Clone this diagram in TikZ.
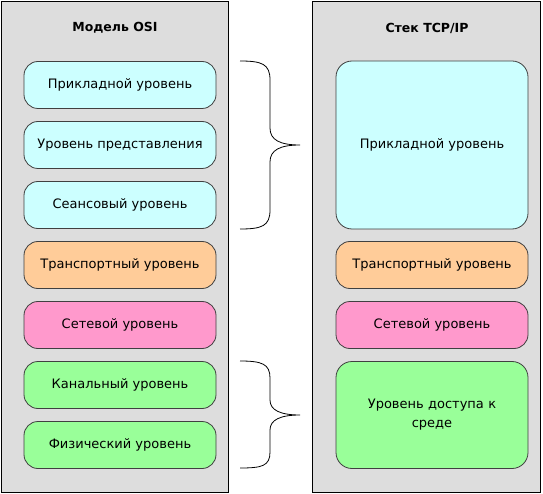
\documentclass[tikz,border=0pt]{standalone}
\usepackage{fontspec}
\setmainfont{DejaVu Sans}

\definecolor{panelgray}{HTML}{DDDDDD}
\definecolor{appcyan}{HTML}{CCFFFF}
\definecolor{transorange}{HTML}{FFCC99}
\definecolor{netpink}{HTML}{FF99CC}
\definecolor{linkgreen}{HTML}{99FF99}

\tikzset{
  panel/.style={draw=black, fill=panelgray},
  layer/.style={draw=black!75, thick, rounded corners=14pt, minimum width=192pt,
    minimum height=47pt, align=center, inner sep=0pt, font=\fontsize{13}{19}\selectfont},
  title/.style={font=\bfseries\fontsize{12.5}{15}\selectfont},
  brace/.style={draw=black, line width=0.8pt},
}

\begin{document}
\begin{tikzpicture}[x=1pt, y=-1pt]

\useasboundingbox (0,0) rectangle (543,494);
%\draw[very thin,color=gray] (0,0) grid[step=20] (543,494);

\draw[panel] (1,1) rectangle (228,492);
\draw[panel] (312,1) rectangle (540,492);

\node(osi) at (115,28) [title] {Модель OSI};
\node(tcp) at (427,28) [title] {Стек TCP/IP};

% OSI
\node(app)   at (120,85)  [layer, fill=appcyan] {Прикладной уровень};
\node(pres)  at (120,145) [layer, fill=appcyan] {Уровень представления};
\node(sess)  at (120,205) [layer, fill=appcyan] {Сеансовый уровень};
\node(trans) at (120,265) [layer, fill=transorange] {Транспортный уровень};
\node(net)   at (120,325) [layer, fill=netpink] {Сетевой уровень};
\node(link)  at (120,385) [layer, fill=linkgreen] {Канальный уровень};
\node(phys)  at (120,445) [layer, fill=linkgreen] {Физический уровень};

% TCP/IP
\node(tapp)   at (432,145) [layer, fill=appcyan, minimum height=168pt, rounded corners=16pt] {Прикладной уровень};
\node(ttrans) at (432,265) [layer, fill=transorange] {Транспортный уровень};
\node(tnet)   at (432,325) [layer, fill=netpink] {Сетевой уровень};
\node(tlink)  at (432,415) [layer, fill=linkgreen, minimum height=107pt, rounded corners=16pt,
  text width=150pt] {Уровень доступа к\\среде};

\draw[brace] (240,61) .. controls (262,61) and (270,64) .. (270,80) -- (270,128)
  .. controls (270,140) and (280,145) .. (300,145)
  .. controls (280,145) and (270,150) .. (270,162) -- (270,210)
  .. controls (270,226) and (262,229) .. (240,229);

\draw[brace] (240,361) .. controls (262,361) and (270,364) .. (270,378) -- (270,400)
  .. controls (270,410) and (280,415) .. (300,415)
  .. controls (280,415) and (270,420) .. (270,430) -- (270,452)
  .. controls (270,466) and (262,468) .. (240,468);

\end{tikzpicture}
\end{document}
